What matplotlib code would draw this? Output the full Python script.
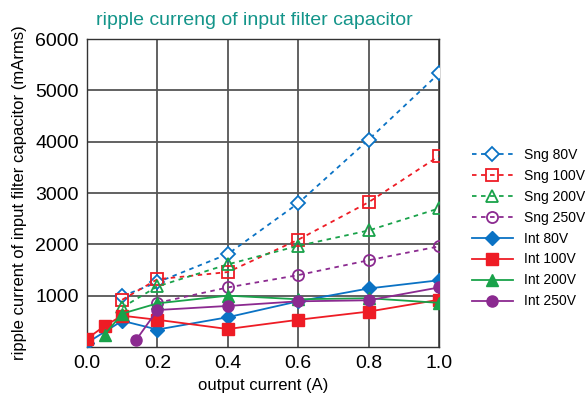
import matplotlib
matplotlib.use("Agg")
import matplotlib.pyplot as plt

plt.rcParams['font.family'] = ['Liberation Sans', 'DejaVu Sans']

x_sng = [0.1, 0.2, 0.4, 0.6, 0.8, 1.0]
sng80 = [990, 1260, 1810, 2800, 4040, 5330]
sng100 = [920, 1320, 1460, 2090, 2820, 3720]
sng200 = [770, 1180, 1610, 1970, 2270, 2700]
x_sng250 = [0.2, 0.4, 0.6, 0.8, 1.0]
sng250 = [860, 1160, 1400, 1690, 1960]

x_int80 = [0.0, 0.1, 0.2, 0.4, 0.6, 0.8, 1.0]
int80 = [80, 510, 340, 580, 890, 1140, 1300]
x_int100 = [0.0, 0.05, 0.1, 0.2, 0.4, 0.6, 0.8, 1.0]
int100 = [160, 410, 610, 530, 350, 530, 690, 920]
x_int200 = [0.05, 0.1, 0.2, 0.4, 0.6, 0.8, 1.0]
int200 = [240, 650, 850, 1000, 930, 950, 860]
x_int250 = [0.14, 0.2, 0.4, 0.6, 0.8, 1.0]
int250 = [140, 720, 800, 890, 910, 1160]

blue = '#0a72c4'
red = '#ee1c25'
green = '#19a24a'
purple = '#8b2a90'

fig = plt.figure(figsize=(5.85, 3.94), dpi=100)
ax = fig.add_axes([0.1487, 0.1193, 0.6017, 0.7817])

dash = (0, (2.5, 2.5))
ax.plot(x_sng, sng80, linestyle=dash, color=blue, marker='D', markersize=7,
        markerfacecolor='white', markeredgewidth=1.3, lw=1.3, label='Sng 80V', zorder=3)
ax.plot(x_sng, sng100, linestyle=dash, color=red, marker='s', markersize=8,
        markerfacecolor='none', markeredgewidth=1.3, lw=1.3, label='Sng 100V', zorder=3)
ax.plot(x_sng, sng200, linestyle=dash, color=green, marker='^', markersize=8,
        markerfacecolor='none', markeredgewidth=1.3, lw=1.3, label='Sng 200V', zorder=3)
ax.plot(x_sng250, sng250, linestyle=dash, color=purple, marker='o', markersize=8,
        markerfacecolor='none', markeredgewidth=1.3, lw=1.3, label='Sng 250V', zorder=3)

ax.plot(x_int80, int80, '-', color=blue, marker='D', markersize=7, lw=1.3, label='Int 80V', zorder=4)
ax.plot(x_int100, int100, '-', color=red, marker='s', markersize=8, lw=1.3, label='Int 100V', zorder=4)
ax.plot(x_int200, int200, '-', color=green, marker='^', markersize=8, lw=1.3, label='Int 200V', zorder=4)
ax.plot(x_int250, int250, '-', color=purple, marker='o', markersize=8, lw=1.3, label='Int 250V', zorder=4)

ax.set_xlim(0, 1.0)
ax.set_ylim(0, 6000)
ax.set_xticks([0.0, 0.2, 0.4, 0.6, 0.8, 1.0])
ax.set_xticklabels(['0.0', '0.2', '0.4', '0.6', '0.8', '1.0'])
ax.set_yticks([1000, 2000, 3000, 4000, 5000, 6000])
ax.tick_params(length=0, labelsize=14, pad=6)
ax.grid(True, color='#555555', lw=1.3, zorder=0)
ax.set_axisbelow(True)
for s in ax.spines.values():
    s.set_color('#333333')
    s.set_linewidth(1.0)

ax.set_xlabel('output current (A)', fontsize=12, labelpad=4)
ax.set_ylabel('ripple current of input filter capacitor (mArms)', fontsize=12, labelpad=6)
ax.set_title('ripple curreng of input filter capacitor', color='#14958a', fontsize=14, pad=10, x=0.475)

leg = fig.legend(loc='upper left', bbox_to_anchor=(0.806, 0.625), frameon=False, fontsize=10,
                 handlelength=3.0, labelspacing=0.5, handletextpad=0.8, borderpad=0,
                 borderaxespad=0)

fig.savefig('out.png', dpi=100)
